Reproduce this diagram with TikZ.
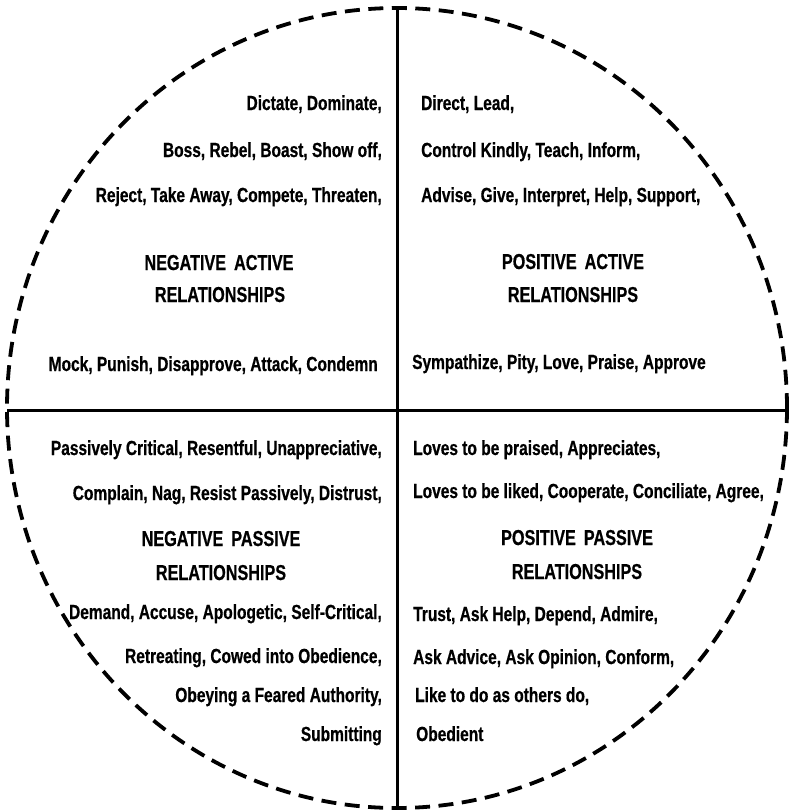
\documentclass[tikz,border=0pt]{standalone}
\usepackage{fontspec}
\setmainfont[FakeStretch=0.76,BoldFeatures={FakeBold=0.6}]{Liberation Sans}
\newfontfamily\headfont[FakeStretch=0.75,BoldFeatures={FakeBold=0.6}]{Liberation Sans}
\begin{document}
\begin{tikzpicture}[x=1pt,y=-1pt,
  body/.style={inner sep=0pt,font=\fontsize{20.4}{22}\selectfont\bfseries},
  lbody/.style={body,anchor=base east},
  rbody/.style={body,anchor=base west},
  head/.style={inner sep=0pt,anchor=base,font=\headfont\fontsize{21.6}{23}\selectfont\bfseries},
  axis/.style={line width=3pt},
  rim/.style={line width=3.8pt,dash pattern=on 15pt off 8.5pt}]
\useasboundingbox (0,0) rectangle (788,811);
% circle and axes
\draw[rim] (397,408) ellipse [x radius=390, y radius=400];
\coordinate (top) at (397,7);
\coordinate (bot) at (397,809);
\coordinate (lft) at (7,410);
\coordinate (rgt) at (788,410);
\draw[axis] (top) -- (bot);
\draw[axis] (lft) -- (rgt);
% negative active
\node[lbody] (na1) at (382,110) {Dictate, Dominate,};
\node[lbody] (na2) at (382,157) {Boss, Rebel, Boast, Show off,};
\node[lbody] (na3) at (382,202) {Reject, Take Away, Compete, Threaten,};
\node[head] (nah1) at (219,270) {NEGATIVE\hspace{8pt}ACTIVE};
\node[head] (nah2) at (220,302) {RELATIONSHIPS};
\node[lbody] (na4) at (378,371) {Mock, Punish, Disapprove, Attack, Condemn};
% positive active
\node[rbody] (pa1) at (421,110) {Direct, Lead,};
\node[rbody] (pa2) at (421,157) {Control Kindly, Teach, Inform,};
\node[rbody] (pa3) at (421,202) {Advise, Give, Interpret, Help, Support,};
\node[head] (pah1) at (573,269) {POSITIVE\hspace{8pt}ACTIVE};
\node[head] (pah2) at (573,302) {RELATIONSHIPS};
\node[rbody] (pa4) at (412,369) {Sympathize, Pity, Love, Praise, Approve};
% negative passive
\node[lbody] (np1) at (382,455) {Passively Critical, Resentful, Unappreciative,};
\node[lbody] (np2) at (382,500) {Complain, Nag, Resist Passively, Distrust,};
\node[head] (nph1) at (221,546) {NEGATIVE\hspace{8pt}PASSIVE};
\node[head] (nph2) at (221,580) {RELATIONSHIPS};
\node[lbody] (np3) at (382,619) {Demand, Accuse, Apologetic, Self-Critical,};
\node[lbody] (np4) at (382,663) {Retreating, Cowed into Obedience,};
\node[lbody] (np5) at (382,702) {Obeying a Feared Authority,};
\node[lbody] (np6) at (382,741) {Submitting};
% positive passive
\node[rbody] (pp1) at (413,455) {Loves to be praised, Appreciates,};
\node[rbody] (pp2) at (413,498) {Loves to be liked, Cooperate, Conciliate, Agree,};
\node[head] (pph1) at (577,545) {POSITIVE\hspace{8pt}PASSIVE};
\node[head] (pph2) at (577,579) {RELATIONSHIPS};
\node[rbody] (pp3) at (413,621) {Trust, Ask Help, Depend, Admire,};
\node[rbody] (pp4) at (413,664) {Ask Advice, Ask Opinion, Conform,};
\node[rbody] (pp5) at (415,702) {Like to do as others do,};
\node[rbody] (pp6) at (416,741) {Obedient};
\end{tikzpicture}
\end{document}
